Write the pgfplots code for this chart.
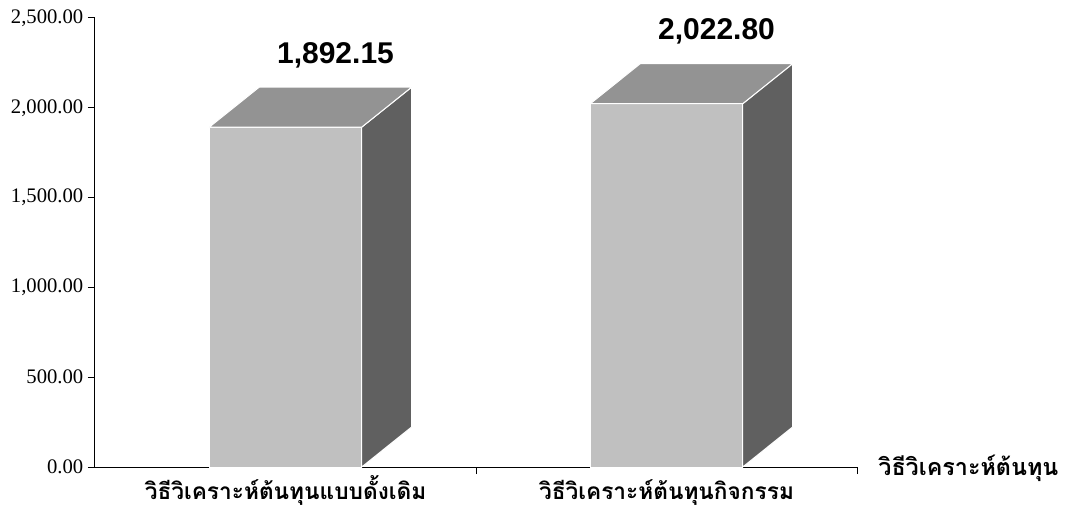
\documentclass[border=0pt]{standalone}
\usepackage{fontspec}
\setmainfont{Liberation Serif}
\newfontfamily\valfont{Liberation Sans}
\newfontfamily\thaifont[Script=Thai]{Loma}
\usepackage{pgfplots}
\pgfplotsset{compat=1.18}
\definecolor{frontc}{HTML}{C0C0C0}
\definecolor{topc}{HTML}{939393}
\definecolor{sidec}{HTML}{606060}
\begin{document}
\begin{tikzpicture}
\path[use as bounding box] (-71.25pt,-30.75pt) rectangle (728.25pt,350.25pt);
\begin{axis}[
  at={(0,0)}, anchor=south west,
  scale only axis, width=571.5pt, height=336.75pt,
  xmin=-0.5, xmax=1.5, ymin=0, ymax=2500,
  axis x line=bottom, axis y line=left,
  axis line style={-, line width=0.75pt, black},
  clip=false,
  /pgf/number format/.cd, fixed, fixed zerofill, precision=2, 1000 sep={,}, assume math mode=true,
  /pgfplots/.cd,
  ytick={0,500,...,2500},
  yticklabel style={font=\fontsize{15.5}{17}\selectfont},
  tick align=outside, major tick length=5.25pt,
  tick style={black, line width=0.75pt},
  xtick={0.5,1.5}, xticklabels={},
  extra x ticks={0,1},
  extra x tick labels={วิธีวิเคราะห์ต้นทุนแบบดั้งเดิม, วิธีวิเคราะห์ต้นทุนกิจกรรม},
  extra x tick style={major tick length=0pt,
     xticklabel style={font=\thaifont\bfseries\fontsize{17}{20}\selectfont, anchor=base, yshift=-24pt}},
  xlabel={วิธีวิเคราะห์ต้นทุน},
  xlabel style={at={(rel axis cs:1,0)}, anchor=base west, xshift=12.5pt, yshift=-6pt,
     font=\thaifont\bfseries\fontsize{17.5}{21}\selectfont},
]
\addplot[ybar, bar width=0.4, bar shift=0pt, fill=frontc, draw=white, line width=0.75pt,
  nodes near coords,
  nodes near coords style={font=\valfont\bfseries\fontsize{22.5}{26}\selectfont, anchor=base, xshift=37.5pt, yshift=48pt, text=black}]
  coordinates {(0,1892.15) (1,2022.80)};
% side faces
\addplot[fill=sidec, draw=white, line width=0.75pt] coordinates {(0.2,0) (0.331,222.7) (0.331,2114.85) (0.2,1892.15)} -- cycle;
\addplot[fill=sidec, draw=white, line width=0.75pt] coordinates {(1.2,0) (1.331,222.7) (1.331,2245.5) (1.2,2022.80)} -- cycle;
% top faces
\addplot[fill=topc, draw=white, line width=0.75pt] coordinates {(-0.2,1892.15) (0.2,1892.15) (0.331,2114.85) (-0.069,2114.85)} -- cycle;
\addplot[fill=topc, draw=white, line width=0.75pt] coordinates {(0.8,2022.80) (1.2,2022.80) (1.331,2245.5) (0.931,2245.5)} -- cycle;
\end{axis}
\end{tikzpicture}
\end{document}
